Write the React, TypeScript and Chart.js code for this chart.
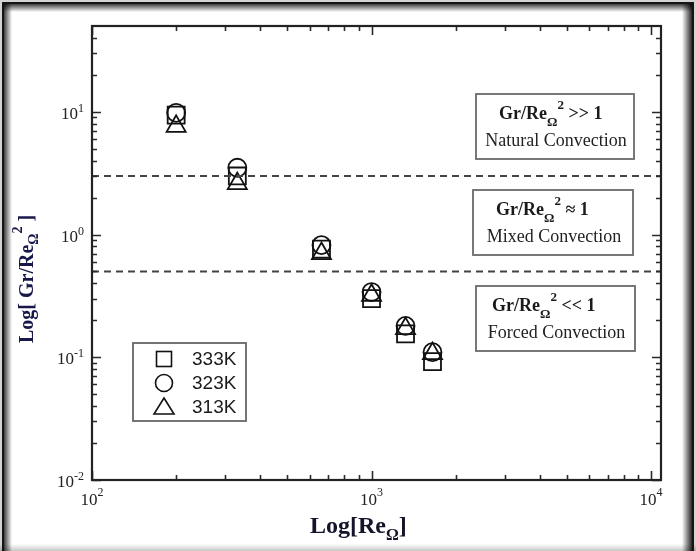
import React, { useEffect, useRef } from "react";
import { Chart, registerables } from "chart.js";

Chart.register(...registerables);

// ---- data ----
const reynolds = [200, 331, 662, 1000, 1323, 1652];
const gr333 = [9.4, 3.0, 0.76, 0.3, 0.155, 0.092];
const gr323 = [9.8, 3.5, 0.82, 0.34, 0.18, 0.11];
const gr313 = [7.6, 2.6, 0.7, 0.32, 0.171, 0.107];
const seriesLabels = ["333K", "323K", "313K"];
const thresholdUpper = 3;
const thresholdLower = 0.5;

// ---- axes ----
const xMin = 100;
const xMax = 10850;
const yMin = 0.01;
const yMax = 50;
const xMajorTicks = [100, 1000, 10000];
const xMajorExponents = ["2", "3", "4"];
const xMinorTicks = [200, 300, 400, 500, 600, 700, 800, 900, 2000, 3000, 4000, 5000, 6000, 7000, 8000, 9000];
const yMajorTicks = [0.01, 0.1, 1, 10];
const yMajorExponents = ["-2", "-1", "0", "1"];
const yMinorTicks = [
  0.02, 0.03, 0.04, 0.05, 0.06, 0.07, 0.08, 0.09,
  0.2, 0.3, 0.4, 0.5, 0.6, 0.7, 0.8, 0.9,
  2, 3, 4, 5, 6, 7, 8, 9, 20, 30, 40,
];

// ---- annotation texts ----
const regimeRelations = [">> 1", "\u2248 1", "<< 1"];
const regimeNames = ["Natural Convection", "Mixed Convection", "Forced Convection"];

const SERIF = '"Liberation Serif", "Times New Roman", serif';
const SANS = '"Liberation Sans", Arial, sans-serif';

type Part = { t: string; f: string; dy?: number };

function drawParts(ctx: CanvasRenderingContext2D, x: number, y: number, parts: Part[], color: string) {
  ctx.save();
  ctx.fillStyle = color;
  ctx.textBaseline = "alphabetic";
  ctx.textAlign = "left";
  let cx = x;
  for (const p of parts) {
    ctx.font = p.f;
    ctx.fillText(p.t, cx, y + (p.dy || 0));
    cx += ctx.measureText(p.t).width;
  }
  ctx.restore();
}

function partsWidth(ctx: CanvasRenderingContext2D, parts: Part[]) {
  let w = 0;
  ctx.save();
  for (const p of parts) {
    ctx.font = p.f;
    w += ctx.measureText(p.t).width;
  }
  ctx.restore();
  return w;
}

const framePlugin = {
  id: "frame",
  beforeDraw(chart: any) {
    const ctx: CanvasRenderingContext2D = chart.ctx;
    const W = chart.width;
    const H = chart.height;
    ctx.save();
    ctx.fillStyle = "#d4d4d4";
    ctx.fillRect(0, 0, W, H);
    ctx.fillStyle = "#151515";
    ctx.fillRect(2, 2, W - 4, H + 10);
    ctx.fillStyle = "#ffffff";
    ctx.fillRect(4, 4, W - 8, H + 10);
    // inner shadows
    let g = ctx.createLinearGradient(4, 0, 12, 0);
    g.addColorStop(0, "rgba(0,0,0,0.75)");
    g.addColorStop(1, "rgba(0,0,0,0)");
    ctx.fillStyle = g;
    ctx.fillRect(4, 4, 8, H);
    g = ctx.createLinearGradient(W - 4, 0, W - 14, 0);
    g.addColorStop(0, "rgba(0,0,0,0.85)");
    g.addColorStop(1, "rgba(0,0,0,0)");
    ctx.fillStyle = g;
    ctx.fillRect(W - 14, 4, 10, H);
    g = ctx.createLinearGradient(0, 4, 0, 12);
    g.addColorStop(0, "rgba(0,0,0,0.75)");
    g.addColorStop(1, "rgba(0,0,0,0)");
    ctx.fillStyle = g;
    ctx.fillRect(4, 4, W - 8, 8);
    g = ctx.createLinearGradient(0, H - 7, 0, H);
    g.addColorStop(0, "rgba(0,0,0,0)");
    g.addColorStop(1, "rgba(0,0,0,0.22)");
    ctx.fillStyle = g;
    ctx.fillRect(0, H - 7, W, 7);
    ctx.restore();
  },
};

const axesPlugin = {
  id: "axesDecor",
  afterDatasetsDraw(chart: any) {
    const ctx: CanvasRenderingContext2D = chart.ctx;
    const { left, right, top, bottom } = chart.chartArea;
    const xs = chart.scales.x;
    const ys = chart.scales.y;
    ctx.save();
    ctx.strokeStyle = "#2a2a2a";
    ctx.lineWidth = 1.6;
    const tickX = (v: number, len: number) => {
      const px = Math.round(xs.getPixelForValue(v)) + 0.5;
      ctx.beginPath();
      ctx.moveTo(px, bottom);
      ctx.lineTo(px, bottom - len);
      ctx.moveTo(px, top);
      ctx.lineTo(px, top + len);
      ctx.stroke();
    };
    const tickY = (v: number, len: number) => {
      const py = Math.round(ys.getPixelForValue(v)) + 0.5;
      ctx.beginPath();
      ctx.moveTo(left, py);
      ctx.lineTo(left + len, py);
      ctx.moveTo(right, py);
      ctx.lineTo(right - len, py);
      ctx.stroke();
    };
    xMinorTicks.forEach((v) => tickX(v, 5));
    xMajorTicks.forEach((v) => tickX(v, 9));
    yMinorTicks.forEach((v) => tickY(v, 5));
    yMajorTicks.forEach((v) => tickY(v, 9));
    ctx.lineWidth = 2.2;
    ctx.strokeStyle = "#222";
    ctx.strokeRect(left, top, right - left, bottom - top);
    ctx.restore();

    // tick labels
    const lab = "#222";
    xMajorTicks.forEach((v, i) => {
      const parts: Part[] = [
        { t: "10", f: `17px ${SERIF}` },
        { t: xMajorExponents[i], f: `12px ${SERIF}`, dy: -9 },
      ];
      const w = partsWidth(ctx, parts);
      const px = xs.getPixelForValue(v);
      drawParts(ctx, px - w / 2, 505, parts, lab);
    });
    yMajorTicks.forEach((v, i) => {
      const parts: Part[] = [
        { t: "10", f: `17px ${SERIF}` },
        { t: yMajorExponents[i], f: `12px ${SERIF}`, dy: -7 },
      ];
      const w = partsWidth(ctx, parts);
      const py = ys.getPixelForValue(v);
      drawParts(ctx, 84 - w, py + 7, parts, lab);
    });

    // axis titles
    drawParts(
      ctx,
      310,
      533,
      [
        { t: "Log[Re", f: `bold 24px ${SERIF}` },
        { t: "\u03A9", f: `bold 16px ${SERIF}`, dy: 7 },
        { t: "]", f: `bold 24px ${SERIF}` },
      ],
      "#14142a"
    );
    ctx.save();
    ctx.translate(33, 343);
    ctx.rotate(-Math.PI / 2);
    drawParts(
      ctx,
      0,
      0,
      [
        { t: "Log[ Gr/Re", f: `bold 20px ${SERIF}` },
        { t: "\u03A9", f: `bold 14px ${SERIF}`, dy: 5 },
        { t: "2", f: `bold 14px ${SERIF}`, dy: -11 },
        { t: " ]", f: `bold 20px ${SERIF}` },
      ],
      "#17174a"
    );
    ctx.restore();
  },
};

const boxes = [
  { x: 476, y: 94, w: 158, h: 65, l1x: 499 },
  { x: 473, y: 190, w: 160, h: 65, l1x: 496 },
  { x: 476, y: 286, w: 159, h: 65, l1x: 492 },
];

const annotationPlugin = {
  id: "annotations",
  afterDraw(chart: any) {
    const ctx: CanvasRenderingContext2D = chart.ctx;
    boxes.forEach((b, i) => {
      ctx.save();
      ctx.fillStyle = "#ffffff";
      ctx.fillRect(b.x, b.y, b.w, b.h);
      ctx.strokeStyle = "#6a6a6a";
      ctx.lineWidth = 1.8;
      ctx.strokeRect(b.x, b.y, b.w, b.h);
      ctx.restore();
      drawParts(
        ctx,
        b.l1x,
        b.y + 25,
        [
          { t: "Gr/Re", f: `bold 18px ${SERIF}` },
          { t: "\u03A9", f: `bold 13px ${SERIF}`, dy: 7 },
          { t: "2", f: `bold 13px ${SERIF}`, dy: -10 },
          { t: " " + regimeRelations[i], f: `bold 18px ${SERIF}` },
        ],
        "#1a1a1a"
      );
      ctx.save();
      ctx.font = `18px ${SERIF}`;
      ctx.fillStyle = "#222";
      ctx.textAlign = "center";
      ctx.textBaseline = "alphabetic";
      ctx.fillText(regimeNames[i], b.x + b.w / 2 + 1, b.y + 52);
      ctx.restore();
    });

    // legend
    const lx = 133, ly = 343, lw = 113, lh = 78;
    ctx.save();
    ctx.fillStyle = "#fff";
    ctx.fillRect(lx, ly, lw, lh);
    ctx.strokeStyle = "#666";
    ctx.lineWidth = 1.8;
    ctx.strokeRect(lx, ly, lw, lh);
    ctx.strokeStyle = "#111";
    ctx.lineWidth = 1.6;
    const sx = 164;
    const rows = [359, 383, 407];
    // square
    ctx.strokeRect(sx - 7.5, rows[0] - 7.5, 15, 15);
    // circle
    ctx.beginPath();
    ctx.arc(sx, rows[1], 8.5, 0, Math.PI * 2);
    ctx.stroke();
    // triangle
    ctx.beginPath();
    ctx.moveTo(sx, rows[2] - 9);
    ctx.lineTo(sx + 10, rows[2] + 7);
    ctx.lineTo(sx - 10, rows[2] + 7);
    ctx.closePath();
    ctx.stroke();
    ctx.font = `19px ${SANS}`;
    ctx.fillStyle = "#1a1a1a";
    ctx.textBaseline = "middle";
    ctx.textAlign = "left";
    seriesLabels.forEach((s, i) => ctx.fillText(s, 192, rows[i] + 1));
    ctx.restore();
  },
};

function toPoints(ys: number[]) {
  return reynolds.map((x, i) => ({ x, y: ys[i] }));
}

export default function App() {
  const canvasRef = useRef<HTMLCanvasElement>(null);
  useEffect(() => {
    const canvas = canvasRef.current;
    if (!canvas) return;
    const marker = {
      type: "scatter" as const,
      showLine: false,
      backgroundColor: "rgba(0,0,0,0)",
      borderColor: "#111",
      pointBorderWidth: 1.8,
      borderWidth: 1.8,
    };
    const chart = new Chart(canvas, {
      type: "scatter",
      data: {
        datasets: [
          {
            type: "line",
            label: "upper",
            data: [
              { x: xMin, y: thresholdUpper },
              { x: xMax, y: thresholdUpper },
            ],
            borderColor: "#444",
            borderWidth: 2,
            borderDash: [7, 5],
            pointRadius: 0,
            fill: false,
          } as any,
          {
            type: "line",
            label: "lower",
            data: [
              { x: xMin, y: thresholdLower },
              { x: xMax, y: thresholdLower },
            ],
            borderColor: "#444",
            borderWidth: 2,
            borderDash: [7, 5],
            pointRadius: 0,
            fill: false,
          } as any,
          { ...marker, label: seriesLabels[0], data: toPoints(gr333), pointStyle: "rect", pointRadius: 12 } as any,
          { ...marker, label: seriesLabels[1], data: toPoints(gr323), pointStyle: "circle", pointRadius: 9 } as any,
          { ...marker, label: seriesLabels[2], data: toPoints(gr313), pointStyle: "triangle", pointRadius: 11 } as any,
        ],
      },
      options: {
        animation: false,
        responsive: false,
        devicePixelRatio: 1,
        layout: { padding: { left: 92, top: 26, right: 35, bottom: 71 } },
        scales: {
          x: { type: "logarithmic", min: xMin, max: xMax, display: false },
          y: { type: "logarithmic", min: yMin, max: yMax, display: false },
        },
        plugins: {
          legend: { display: false },
          tooltip: { enabled: false },
        },
        events: [],
      },
      plugins: [framePlugin, axesPlugin, annotationPlugin],
    });
    return () => chart.destroy();
  }, []);
  return (
    <div style={{ position: "fixed", left: 0, top: 0, width: 696, height: 551 }}>
      <canvas ref={canvasRef} width={696} height={551} style={{ display: "block", width: 696, height: 551 }} />
    </div>
  );
}
